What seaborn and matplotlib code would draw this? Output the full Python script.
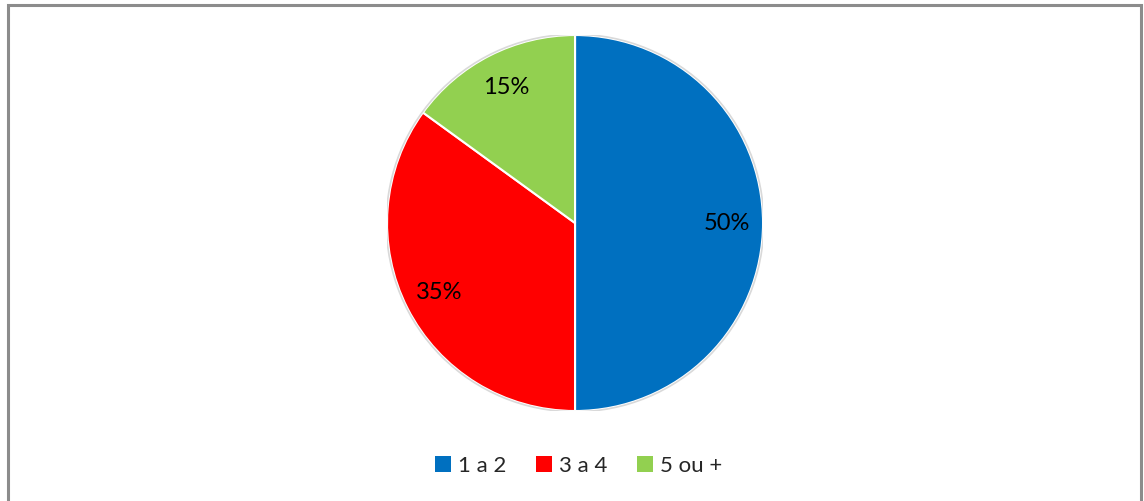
import matplotlib
matplotlib.use("Agg")
import matplotlib.pyplot as plt
import seaborn as sns
from matplotlib.patches import Patch

categories = ["1 a 2", "3 a 4", "5 ou +"]
shares = [50, 35, 15]
colors = ["#0070C0", "#FF0000", "#92D050"]

sns.set_theme(style="white")
plt.rcParams['font.family'] = ['Lato', 'DejaVu Sans']

palette = sns.color_palette(colors)

fig = plt.figure(figsize=(11.44, 5.01), dpi=100)
ax = fig.add_axes([0.3383, 0.1796, 0.3287, 0.7505])

wedges, texts, autotexts = ax.pie(
    shares, colors=palette, startangle=90, counterclock=False,
    autopct="%1.0f%%", pctdistance=0.81, radius=1.0,
    wedgeprops={"edgecolor": "white", "linewidth": 1.5},
    textprops={"fontsize": 17, "color": "black"})
# faint outline around the pie
ax.add_patch(plt.Circle((0, 0), 1.004, fill=False, edgecolor="#d9d9d9", linewidth=1.2))
ax.set_xlim(-1.0, 1.0)
ax.set_ylim(-1.0, 1.0)
ax.set_aspect("equal")
ax.axis("off")

handles = [Patch(facecolor=c, edgecolor="none") for c in palette]
fig.legend(handles, categories, loc="center", bbox_to_anchor=(0.506, 0.07),
           ncol=3, frameon=False, fontsize=16, handlelength=0.72, handleheight=0.72,
           handletextpad=0.3, columnspacing=1.35)

# grey frame around the chart area
frame = plt.Rectangle((8 / 1144, -0.02), (1141 - 8) / 1144, 1 - 5 / 501 + 0.02,
                      transform=fig.transFigure, fill=False,
                      edgecolor="#8c8c8c", linewidth=2.2)
fig.patches.append(frame)

fig.savefig("out.png", dpi=100)
